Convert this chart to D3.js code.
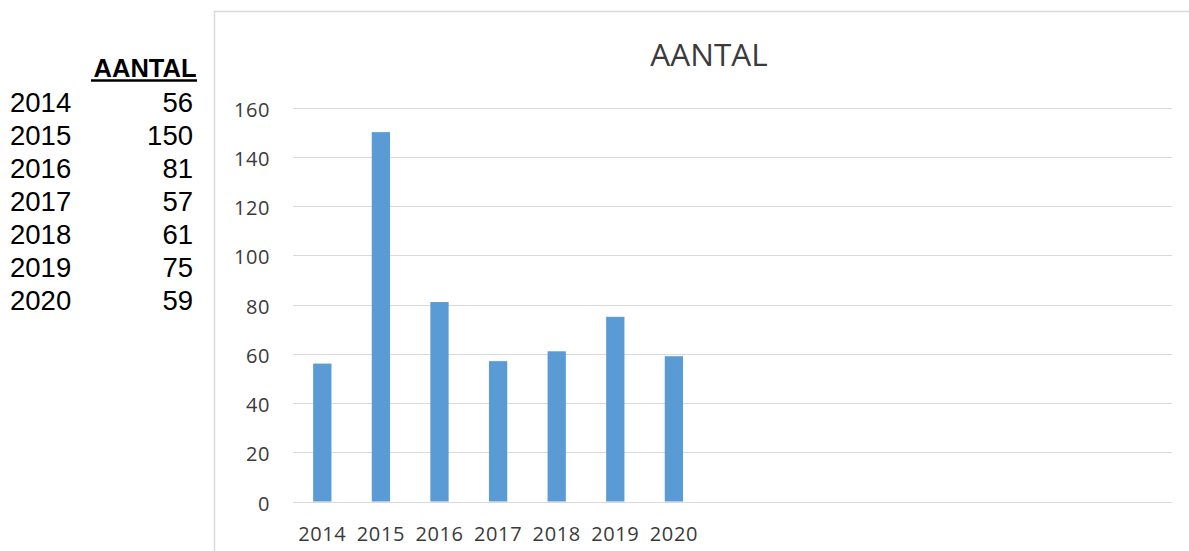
<!DOCTYPE html>
<html>
<head>
<meta charset="utf-8">
<script src="https://cdn.jsdelivr.net/npm/d3@7"></script>
<style>
  body { margin: 0; background: #fff; }
  svg { display: block; }
</style>
</head>
<body>
<div class="canvas"></div>
<script>
// data read from the sheet
const years = ['2014', '2015', '2016', '2017', '2018', '2019', '2020']
const counts = [56, 150, 81, 57, 61, 75, 59]
const yTicks = [0, 20, 40, 60, 80, 100, 120, 140, 160]
const seriesName = 'AANTAL'

const dimensions = { width: 1189, height: 551 }
const plot = { left: 293, right: 1172, top: 107.5, bottom: 501.5 }
const slotCount = 15 // the chart reserves room for more years than are filled

const svg = d3.select('.canvas')
    .append('svg')
    .attr('width', dimensions.width)
    .attr('height', dimensions.height)

// table on the left
const table = svg.append('g')
    .attr('font-family', 'Liberation Sans, Arial, sans-serif')
    .attr('fill', '#000')

table.append('text')
    .attr('x', 196.5)
    .attr('y', 76.5)
    .attr('text-anchor', 'end')
    .attr('font-size', 25.5)
    .attr('font-weight', 'bold')
    .text(seriesName)

table.append('line')
    .attr('x1', 91).attr('x2', 197)
    .attr('y1', 80.5).attr('y2', 80.5)
    .attr('stroke', '#000')
    .attr('stroke-width', 2.5)

const rows = table.selectAll('g.row')
    .data(years.map((y, i) => ({ year: y, count: counts[i] })))
    .enter()
    .append('g')
    .attr('class', 'row')
    .attr('transform', (d, i) => `translate(0, ${111.5 + i * 33})`)
    .attr('font-size', 27.5)

rows.append('text')
    .attr('x', 10)
    .text(d => d.year)

rows.append('text')
    .attr('x', 193)
    .attr('text-anchor', 'end')
    .text(d => d.count)

// chart frame
svg.append('path')
    .attr('d', `M214.5,${dimensions.height} V11.5 H${dimensions.width + 5}`)
    .attr('fill', 'none')
    .attr('stroke', '#d9d9d9')
    .attr('stroke-width', 1.5)

const inner = 1 - 18.3 / ((plot.right - plot.left) / slotCount)

const x = d3.scaleBand()
    .domain(d3.range(slotCount))
    .range([plot.left, plot.right])
    .paddingInner(inner)
    .paddingOuter(inner / 2)

const y = d3.scaleLinear()
    .domain([0, 160])
    .range([plot.bottom, plot.top])

const graph = svg.append('g')
    .attr('font-family', 'Open Sans, sans-serif')

// gridlines
graph.append('g')
    .selectAll('line')
    .data(yTicks)
    .enter()
    .append('line')
    .attr('x1', plot.left)
    .attr('x2', plot.right)
    .attr('y1', d => Math.round(y(d)) + 0.5)
    .attr('y2', d => Math.round(y(d)) + 0.5)
    .attr('stroke', '#d9d9d9')
    .attr('stroke-width', 1.2)

// y axis labels
const yAxis = graph.append('g')
    .attr('transform', `translate(270, 0)`)
    .call(d3.axisLeft(y).tickValues(yTicks).tickSize(0).tickPadding(0))

yAxis.select('.domain').remove()
yAxis.selectAll('text')
    .attr('font-family', 'Open Sans, sans-serif')
    .attr('font-size', 20)
    .attr('fill', '#3a3a3a')
    .attr('dy', '0.43em')
    .attr('letter-spacing', 0.6)

// bars
graph.append('g')
    .selectAll('rect')
    .data(counts)
    .enter()
    .append('rect')
    .attr('x', (d, i) => x(i))
    .attr('width', x.bandwidth())
    .attr('y', d => y(d))
    .attr('height', d => y(0) - y(d))
    .attr('fill', '#5b9bd5')

// x axis labels
const xAxis = graph.append('g')
    .attr('transform', `translate(0, ${plot.bottom})`)
    .call(d3.axisBottom(x).tickSize(0).tickPadding(0)
        .tickFormat(i => i < years.length ? years[i] : ''))

xAxis.select('.domain').remove()
xAxis.selectAll('text')
    .attr('font-family', 'Open Sans, sans-serif')
    .attr('font-size', 20)
    .attr('fill', '#3a3a3a')
    .attr('dy', 0)
    .attr('y', 39)
    .attr('letter-spacing', 0.6)

// title
graph.append('text')
    .attr('x', 709)
    .attr('y', 66)
    .attr('text-anchor', 'middle')
    .attr('font-size', 31.5)
    .attr('fill', '#3a3a3a')
    .text(seriesName)
</script>
</body>
</html>
